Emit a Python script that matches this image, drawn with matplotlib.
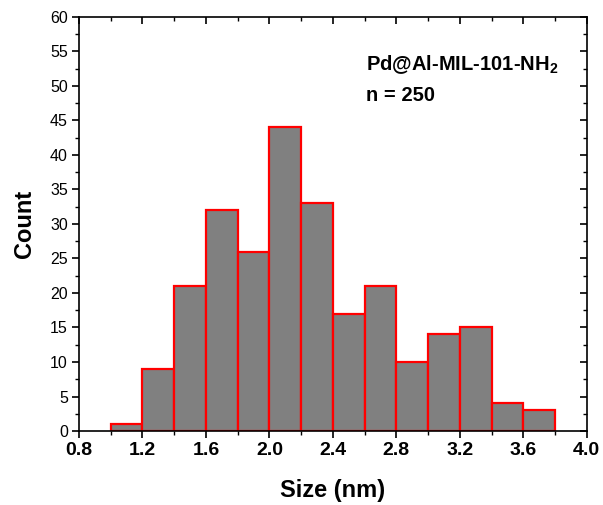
import matplotlib
matplotlib.use("Agg")
import matplotlib.pyplot as plt
import numpy as np
from matplotlib.ticker import MultipleLocator

plt.rcParams['font.family'] = ['Liberation Sans', 'DejaVu Sans']
plt.rcParams['mathtext.fontset'] = 'custom'
plt.rcParams['mathtext.bf'] = 'Liberation Sans:bold'
plt.rcParams['mathtext.rm'] = 'Liberation Sans'

bin_edges = [1.0, 1.2, 1.4, 1.6, 1.8, 2.0, 2.2, 2.4, 2.6, 2.8, 3.0, 3.2, 3.4, 3.6, 3.8]
counts = [1, 9, 21, 32, 26, 44, 33, 17, 21, 10, 14, 15, 4, 3]
x_ticks = [0.8, 1.2, 1.6, 2.0, 2.4, 2.8, 3.2, 3.6, 4.0]
y_ticks = [0, 5, 10, 15, 20, 25, 30, 35, 40, 45, 50, 55, 60]

fig = plt.figure(figsize=(6.03, 5.05), dpi=100)
ax = fig.add_axes([0.131, 0.1465, 0.842, 0.82])

lefts = np.array(bin_edges[:-1])
widths = np.diff(bin_edges)
ax.bar(lefts, counts, width=widths, align='edge', color='#808080',
       edgecolor='#ff0000', linewidth=1.6, zorder=2)

ax.set_xlim(0.8, 4.0)
ax.set_ylim(0, 60)
ax.set_xticks(x_ticks)
ax.set_xticklabels([f"{v:.1f}" for v in x_ticks], fontweight='bold', fontsize=14)
ax.set_yticks(y_ticks)
ax.set_yticklabels([str(v) for v in y_ticks], fontsize=11.5)
ax.xaxis.set_minor_locator(MultipleLocator(0.2))
ax.yaxis.set_minor_locator(MultipleLocator(2.5))

ax.tick_params(axis='both', which='major', direction='out', length=5, width=1.2,
               top=True, right=True, pad=3)
ax.tick_params(axis='both', which='minor', direction='out', length=3, width=1.0,
               top=True, right=True)
for t in ax.xaxis.get_major_ticks() + ax.xaxis.get_minor_ticks():
    t.tick2line.set_marker(3)  # TICKDOWN (inward at top)
for t in ax.yaxis.get_major_ticks() + ax.yaxis.get_minor_ticks():
    t.tick2line.set_marker(0)  # TICKLEFT (inward at right)

for s in ax.spines.values():
    s.set_linewidth(1.2)

ax.set_xlabel('Size (nm)', fontsize=17, fontweight='bold', labelpad=14)
ax.set_ylabel('Count', fontsize=17, fontweight='bold', labelpad=10)

ax.text(0.566, 0.885, r'Pd@Al-MIL-101-NH$_{\mathbf{2}}$', transform=ax.transAxes,
        fontsize=14.5, fontweight='bold', va='center', ha='left')
ax.text(0.566, 0.81, 'n = 250', transform=ax.transAxes,
        fontsize=14.5, fontweight='bold', va='center', ha='left')

fig.savefig('out.png', dpi=100)
